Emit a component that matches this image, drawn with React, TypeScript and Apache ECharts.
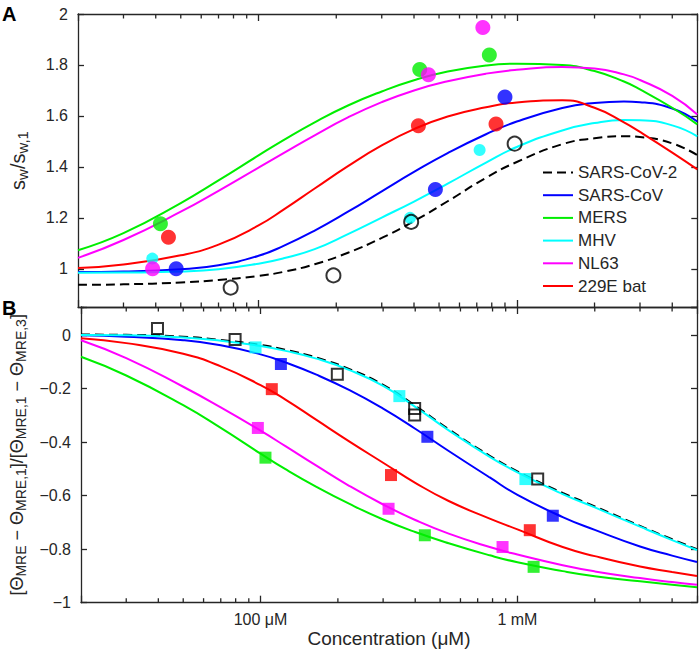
import React, { useEffect, useRef } from 'react';
import * as echarts from 'echarts';

// ---------- data ----------
const names = ['SARS-CoV-2', 'SARS-CoV', 'MERS', 'MHV', 'NL63', '229E bat'];
const colors = ['#000000', '#0000ff', '#00ee00', '#00ffff', '#ff00ff', '#ff0000'];

// Panel A fitted curves (concentration in µM)
const concA = [20, 30, 50, 70, 100, 125, 165, 222, 300, 400, 540, 760, 1000, 1500, 2000, 2600, 3000, 4000, 5000];
const curveA_SARS2 = [0.937, 0.939, 0.946, 0.956, 0.972, 0.988, 1.018, 1.063, 1.121, 1.187, 1.265, 1.357, 1.419, 1.489, 1.512, 1.520, 1.517, 1.492, 1.446];
const curveA_SARS = [0.987, 0.989, 0.998, 1.014, 1.051, 1.090, 1.150, 1.224, 1.304, 1.380, 1.454, 1.528, 1.578, 1.631, 1.651, 1.657, 1.654, 1.629, 1.578];
const curveA_MERS = [1.073, 1.140, 1.258, 1.347, 1.445, 1.505, 1.575, 1.641, 1.696, 1.740, 1.774, 1.798, 1.805, 1.800, 1.776, 1.735, 1.704, 1.632, 1.567];
const curveA_MHV = [0.984, 0.985, 0.989, 0.998, 1.020, 1.041, 1.077, 1.136, 1.201, 1.264, 1.334, 1.417, 1.478, 1.543, 1.572, 1.584, 1.583, 1.563, 1.520];
const curveA_NL63 = [1.043, 1.113, 1.224, 1.306, 1.397, 1.454, 1.524, 1.594, 1.654, 1.700, 1.736, 1.766, 1.781, 1.792, 1.786, 1.763, 1.741, 1.679, 1.606];
const curveA_229E = [1.003, 1.017, 1.053, 1.095, 1.170, 1.232, 1.315, 1.403, 1.484, 1.548, 1.598, 1.634, 1.653, 1.661, 1.632, 1.575, 1.537, 1.456, 1.390];

// Panel A measured points [conc µM, sw/sw,1]
const ptsA_SARS2 = [[78, 0.926], [195, 0.974], [390, 1.184], [981, 1.491]];
const ptsA_SARS = [[48, 1.0], [484, 1.311], [900, 1.674]];
const ptsA_MERS = [[41.7, 1.177], [421, 1.782], [783, 1.839]];
const ptsA_MHV = [[38.8, 1.04], [386, 1.2], [718, 1.466]];
const ptsA_NL63 = [[38.9, 1.0], [455, 1.762], [739, 1.947]];
const ptsA_229E = [[44.8, 1.124], [416, 1.561], [831, 1.568]];

// Panel B fitted curves
const concB = [20, 30, 50, 70, 100, 125, 165, 222, 300, 400, 540, 780, 1000, 1500, 2000, 3000, 4000, 5000];
const curveB_SARS2 = [0.002, 0.001, -0.006, -0.018, -0.037, -0.055, -0.084, -0.127, -0.186, -0.264, -0.352, -0.451, -0.509, -0.590, -0.640, -0.713, -0.763, -0.800];
const curveB_SARS = [-0.001, -0.006, -0.019, -0.038, -0.072, -0.102, -0.148, -0.206, -0.275, -0.350, -0.433, -0.532, -0.597, -0.680, -0.728, -0.790, -0.824, -0.848];
const curveB_MERS = [-0.081, -0.151, -0.262, -0.347, -0.443, -0.501, -0.567, -0.631, -0.689, -0.736, -0.778, -0.823, -0.849, -0.882, -0.901, -0.920, -0.933, -0.942];
const curveB_MHV = [0.0, -0.001, -0.009, -0.021, -0.041, -0.059, -0.088, -0.131, -0.190, -0.268, -0.356, -0.455, -0.513, -0.594, -0.644, -0.716, -0.766, -0.803];
const curveB_NL63 = [-0.019, -0.086, -0.193, -0.270, -0.357, -0.415, -0.488, -0.564, -0.633, -0.691, -0.742, -0.792, -0.820, -0.860, -0.883, -0.908, -0.923, -0.933];
const curveB_229E = [-0.012, -0.030, -0.070, -0.117, -0.187, -0.241, -0.317, -0.398, -0.477, -0.552, -0.620, -0.686, -0.726, -0.792, -0.826, -0.865, -0.885, -0.900];

// Panel B measured points
const ptsB_SARS2 = [[39.7, 0.025], [79.6, -0.016], [199, -0.146], [398, -0.274], [398, -0.299], [1199, -0.538]];
const ptsB_SARS = [[120, -0.108], [446, -0.38], [1373, -0.675]];
const ptsB_MERS = [[104.5, -0.458], [436, -0.748], [1156, -0.866]];
const ptsB_MHV = [[95.6, -0.046], [347, -0.228], [1074, -0.538]];
const ptsB_NL63 = [[97.6, -0.347], [315, -0.649], [875, -0.792]];
const ptsB_229E = [[110.6, -0.202], [322, -0.523], [1117, -0.729]];

// axis settings
const xMin = 20;
const xMax = 5000;
const yRangeA = [0.85, 2];
const yRangeB = [-1, 0.105];
const minorTicks = [30, 40, 50, 60, 70, 80, 90, 200, 300, 400, 500, 600, 700, 800, 900, 2000, 3000, 4000];

const FONT = '"Liberation Sans", Arial, Helvetica, sans-serif';
const AX = '#262626';

const zip = (xs: number[], ys: number[]) => xs.map((x, i) => [x, ys[i]]);

export default function App() {
  const ref = useRef<HTMLDivElement>(null);

  useEffect(() => {
    const chart = echarts.init(ref.current!, null, { renderer: 'svg' });

    const gridLeft = 75;
    const gridRight = 2.7;

    const xAxisBase = (gridIndex: number, position: string, labels: boolean) => ({
      type: 'log',
      logBase: 10,
      gridIndex,
      position,
      min: xMin,
      max: xMax,
      axisLine: { show: true, onZero: false, lineStyle: { color: AX, width: 1.3 } },
      axisTick: { show: true, inside: true, length: 7, lineStyle: { color: AX, width: 1.3 } },
      splitLine: { show: false },
      axisLabel: labels
        ? {
            show: true,
            fontSize: 16,
            fontFamily: FONT,
            color: AX,
            margin: 9,
            formatter: (v: number) =>
              Math.abs(v - 100) < 1e-6 ? '100 μM' : Math.abs(v - 1000) < 1e-4 ? '1 mM' : '',
          }
        : { show: false },
      ...(labels
        ? {
            name: 'Concentration (μM)',
            nameLocation: 'middle',
            nameGap: 26,
            nameTextStyle: { fontSize: 19, fontFamily: FONT, color: AX },
          }
        : {}),
    });

    const yAxisBase = (gridIndex: number, position: string, range: number[], labels: boolean, fmt: any, extra: any) => ({
      type: 'value',
      gridIndex,
      position,
      min: range[0],
      max: range[1],
      axisLine: { show: true, onZero: false, lineStyle: { color: AX, width: 1.3 } },
      axisTick: { show: true, inside: true, length: 6, lineStyle: { color: AX, width: 1.3 } },
      splitLine: { show: false },
      axisLabel: labels
        ? { show: true, fontSize: 16, fontFamily: FONT, color: AX, margin: 10, formatter: fmt }
        : { show: false },
      ...extra,
    });

    const fmtA = (v: number) => (v < 0.95 ? '' : String(+v.toFixed(1)));
    const fmtB = (v: number) => {
      if (v > 0.05) return '';
      if (Math.abs(v) < 1e-9) return '0';
      return '−' + String(+Math.abs(v).toFixed(1));
    };

    const mainRichA = { fontSize: 20, lineHeight: 24, verticalAlign: 'middle', fontFamily: FONT, color: AX };
    const subRichA = { fontSize: 15, lineHeight: 15, verticalAlign: 'bottom', fontFamily: FONT, color: AX };
    const mainRichB = { fontSize: 18, lineHeight: 22, verticalAlign: 'middle', fontFamily: FONT, color: AX };
    const subRichB = { fontSize: 14, lineHeight: 14, verticalAlign: 'bottom', fontFamily: FONT, color: AX };

    const curvesA = [curveA_SARS2, curveA_SARS, curveA_MERS, curveA_MHV, curveA_NL63, curveA_229E];
    const curvesB = [curveB_SARS2, curveB_SARS, curveB_MERS, curveB_MHV, curveB_NL63, curveB_229E];
    const ptsA = [ptsA_SARS2, ptsA_SARS, ptsA_MERS, ptsA_MHV, ptsA_NL63, ptsA_229E];
    const ptsB = [ptsB_SARS2, ptsB_SARS, ptsB_MERS, ptsB_MHV, ptsB_NL63, ptsB_229E];

    const lineSeries = (xs: number[], ys: number[], i: number, xi: number, yi: number, nm: string) => ({
      type: 'line',
      name: nm,
      xAxisIndex: xi,
      yAxisIndex: yi,
      data: zip(xs, ys),
      smooth: 0.5,
      symbol: 'none',
      clip: true,
      z: 2,
      lineStyle: { color: colors[i], width: 2, type: i === 0 ? [9, 5] : 'solid' },
      itemStyle: { color: colors[i] },
    });

    const scatterSeries = (data: number[][], i: number, xi: number, yi: number, shape: string, nm: string) => {
      const open = i === 0;
      let size = shape === 'circle' ? 15 : 12;
      if (shape === 'circle' && i === 3) size = 12;
      if (open) size = shape === 'circle' ? 14 : 11;
      return {
        type: 'scatter',
        name: nm,
        xAxisIndex: xi,
        yAxisIndex: yi,
        data,
        symbol: shape,
        symbolSize: size,
        z: 3,
        itemStyle: open
          ? { color: 'rgba(0,0,0,0)', borderColor: '#000', borderWidth: 2 }
          : { color: colors[i] },
      };
    };

    const tickSeries = (xi: number, yi: number, yv: number) => ({
      type: 'custom',
      xAxisIndex: xi,
      yAxisIndex: yi,
      silent: true,
      z: 4,
      data: minorTicks.map((t) => [t, yv]),
      renderItem: (params: any, api: any) => {
        const cs = params.coordSys;
        const x = api.coord([api.value(0), yv])[0];
        const st = { stroke: AX, lineWidth: 1.3 };
        return {
          type: 'group',
          children: [
            { type: 'line', shape: { x1: x, y1: cs.y + cs.height, x2: x, y2: cs.y + cs.height - 4.5 }, style: st },
            { type: 'line', shape: { x1: x, y1: cs.y, x2: x, y2: cs.y + 4.5 }, style: st },
          ],
        };
      },
    });

    const series: any[] = [];
    curvesA.forEach((c, i) => series.push(lineSeries(concA, c, i, 0, 0, names[i])));
    curvesB.forEach((c, i) => series.push(lineSeries(concB, c, i, 2, 2, names[i] + ' (B)')));
    [1, 2, 3, 4, 5, 0].forEach((i) => series.push(scatterSeries(ptsA[i], i, 0, 0, 'circle', names[i] + ' data A')));
    [1, 2, 3, 4, 5, 0].forEach((i) => series.push(scatterSeries(ptsB[i], i, 2, 2, 'rect', names[i] + ' data B')));
    series.push(tickSeries(0, 0, 1));
    series.push(tickSeries(2, 2, -0.5));

    const option: any = {
      animation: false,
      backgroundColor: '#ffffff',
      textStyle: { fontFamily: FONT },
      grid: [
        { left: gridLeft, right: gridRight, top: 14, height: 293, containLabel: false },
        { left: gridLeft, right: gridRight, top: 307, height: 295.7, containLabel: false },
      ],
      xAxis: [
        xAxisBase(0, 'bottom', false),
        xAxisBase(0, 'top', false),
        xAxisBase(1, 'bottom', true),
        xAxisBase(1, 'top', false),
      ],
      yAxis: [
        yAxisBase(0, 'left', yRangeA, true, fmtA, {
          name: '{m|s}{s|w}{m|/s}{s|w,1}',
          nameLocation: 'middle',
          nameRotate: 90,
          nameGap: 48,
          nameTextStyle: { rich: { m: mainRichA, s: subRichA } },
        }),
        yAxisBase(0, 'right', yRangeA, false, null, {}),
        yAxisBase(1, 'left', yRangeB, true, fmtB, {
          name: '{m|[Θ}{s|MRE}{m| − Θ}{s|MRE,1}{m|]/[Θ}{s|MRE,1}{m| − Θ}{s|MRE,3}{m|]}',
          nameLocation: 'middle',
          nameRotate: 90,
          nameGap: 53,
          nameTextStyle: { rich: { m: mainRichB, s: subRichB } },
        }),
        yAxisBase(1, 'right', yRangeB, false, null, {}),
      ],
      legend: {
        data: names,
        orient: 'vertical',
        left: 542,
        top: 164,
        padding: 0,
        itemWidth: 30,
        itemHeight: 14,
        itemGap: 5.7,
        selectedMode: false,
        itemStyle: { opacity: 0, borderWidth: 0 },
        textStyle: { fontSize: 17, lineHeight: 17, color: AX, fontFamily: FONT },
      },
      graphic: [
        {
          type: 'text',
          x: 2,
          y: 13.5,
          style: { text: 'A', font: `bold 20px ${FONT}`, fill: '#000', align: 'left', verticalAlign: 'middle' },
        },
        {
          type: 'text',
          x: 2,
          y: 308,
          style: { text: 'B', font: `bold 20px ${FONT}`, fill: '#000', align: 'left', verticalAlign: 'middle' },
        },
      ],
      series,
    };

    chart.setOption(option);
    return () => chart.dispose();
  }, []);

  return (
    <div
      ref={ref}
      style={{ position: 'fixed', left: 0, top: 0, width: 700, height: 656, background: '#fff' }}
    />
  );
}
